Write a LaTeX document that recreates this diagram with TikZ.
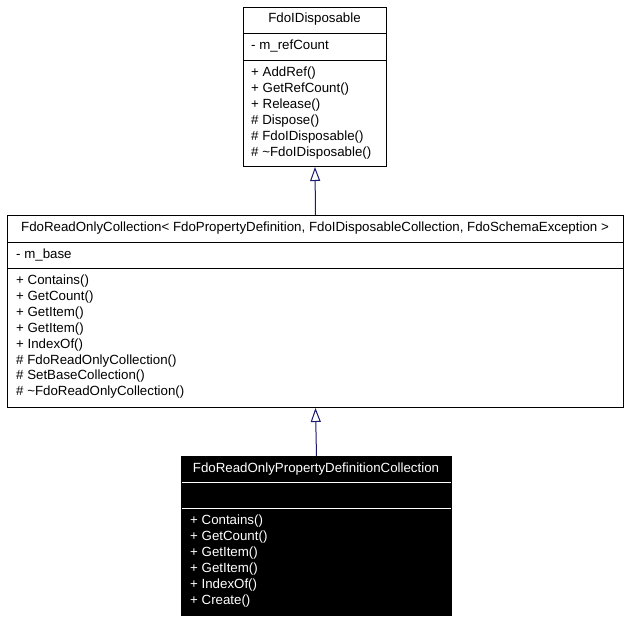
\documentclass[tikz,border=0pt]{standalone}
\usepackage{fontspec}
\setmainfont{Liberation Sans}
\usetikzlibrary{arrows.meta,positioning}
\definecolor{edge1}{HTML}{191970}

\begin{document}
\begin{tikzpicture}[x=1pt,y=-1pt,font=\fontsize{13.3}{16}\selectfont,
  classbox/.style={draw=black,line width=1pt,inner sep=0pt,anchor=north west},
  title/.style={anchor=base,inner sep=0pt},
  member/.style={anchor=base west,inner sep=0pt},
  inherit/.style={edge1,line width=1pt,-{Triangle[open,length=14pt,width=10pt]}}]
  \useasboundingbox[fill=white] (0,0) rectangle (629,621);
  % base class
  \node[classbox,fill=white,minimum width=143pt,minimum height=159pt] (disp) at (243,7) {};
  \draw[line width=1pt] ([yshift=-26pt]disp.north west) -- ([yshift=-26pt]disp.north east)
                        ([yshift=-53pt]disp.north west) -- ([yshift=-53pt]disp.north east);
  \node[title] (disp-t) at (314.5,23) {FdoIDisposable};
  \node[member] (disp-a) at (251,49.5) {- m\_refCount};
  \foreach \m [count=\i] in {+ AddRef(),+ GetRefCount(),+ Release(),\# Dispose(),
                             \# FdoIDisposable(),\# \textasciitilde FdoIDisposable()}
    \node[member] (disp-m\i) at (251,{76.5+15.9*(\i-1)}) {\m};
  % template collection
  \node[classbox,fill=white,minimum width=616pt,minimum height=192pt] (coll) at (7,215) {};
  \draw[line width=1pt] ([yshift=-27pt]coll.north west) -- ([yshift=-27pt]coll.north east)
                        ([yshift=-53pt]coll.north west) -- ([yshift=-53pt]coll.north east);
  \node[title] (coll-t) at (315,231) {FdoReadOnlyCollection< FdoPropertyDefinition, FdoIDisposableCollection, FdoSchemaException >};
  \node[member] (coll-a) at (16,258.5) {- m\_base};
  \foreach \m [count=\i] in {+ Contains(),+ GetCount(),+ GetItem(),+ GetItem(),+ IndexOf(),
                             \# FdoReadOnlyCollection(),\# SetBaseCollection(),
                             \# \textasciitilde FdoReadOnlyCollection()}
    \node[member] (coll-m\i) at (16,{284.5+15.9*(\i-1)}) {\m};
  % property definition collection
  \node[classbox,fill=black,minimum width=270pt,minimum height=159pt] (prop) at (181,456) {};
  \draw[white,line width=1pt] ([yshift=-26pt,xshift=1pt]prop.north west) -- ([yshift=-26pt,xshift=-1pt]prop.north east)
                              ([yshift=-52pt,xshift=1pt]prop.north west) -- ([yshift=-52pt,xshift=-1pt]prop.north east);
  \node[title,white] (prop-t) at (316,472) {FdoReadOnlyPropertyDefinitionCollection};
  \foreach \m [count=\i] in {+ Contains(),+ GetCount(),+ GetItem(),+ GetItem(),+ IndexOf(),+ Create()}
    \node[member,white] (prop-m\i) at (190,{524.5+15.9*(\i-1)}) {\m};
  % inheritance
  \draw[inherit] (coll.north) -- (disp.south);
  \draw[inherit] (prop.north) -- (coll.south);
\end{tikzpicture}
\end{document}
